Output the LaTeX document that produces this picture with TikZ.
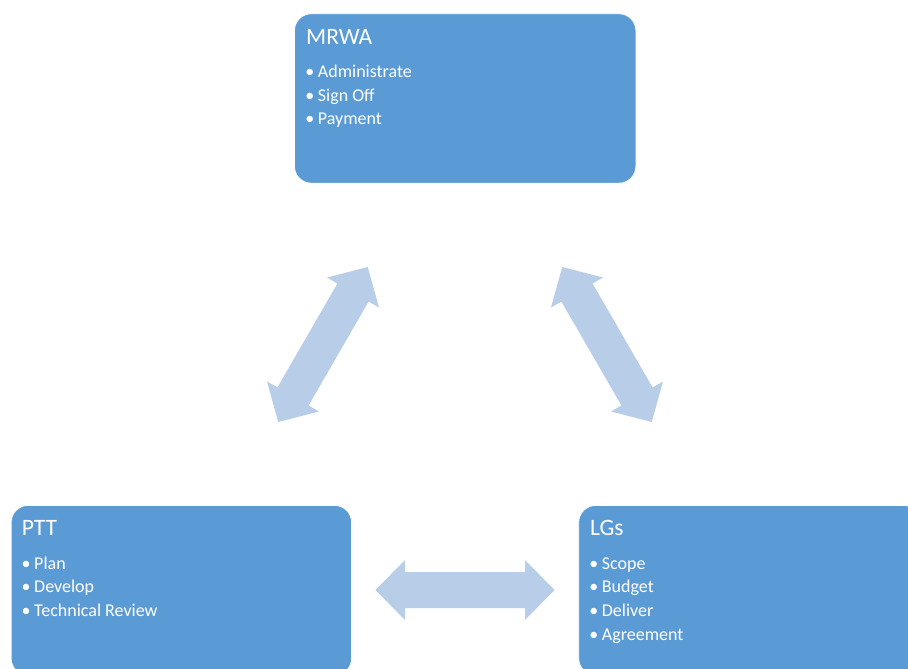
\documentclass[tikz,border=0pt]{standalone}
\usepackage{fontspec}
\setmainfont{Carlito}
\definecolor{boxblue}{HTML}{5B9BD5}
\definecolor{arrowblue}{HTML}{B7CDE8}
\tikzset{
  box/.style={fill=boxblue, draw=white, line width=0.8pt, rounded corners=17pt, anchor=north west},
  ttl/.style={anchor=base west, inner sep=0pt, text=white, font=\fontsize{23.5}{28}\selectfont},
  itm/.style={anchor=base west, inner sep=0pt, text=white, font=\fontsize{18}{22}\selectfont},
  blockarrow/.pic={\fill[arrowblue] (-89.5,0) -- (-60,-30) -- (-60,-18) -- (60,-18) -- (60,-30)
     -- (89.5,0) -- (60,30) -- (60,18) -- (-60,18) -- (-60,30) -- cycle;}
}
\begin{document}
\begin{tikzpicture}[x=1pt,y=-1pt]
\useasboundingbox (0,0) rectangle (908,669);
\clip (0,0) rectangle (908,669);
\fill[white] (0,0) rectangle (908,669);
% boxes
\node[box, minimum width=341.5pt, minimum height=169.5pt] (mrwa) at (294,13.3) {};
\node[box, minimum width=340.5pt, minimum height=170pt] (ptt) at (10.7,505) {};
\node[box, minimum width=342pt, minimum height=170pt] (lgs) at (578.3,505) {};
% titles
\node[ttl] (mrwaT) at (306,45) {MRWA};
\node[ttl] (pttT) at (21.7,535.7) {PTT};
\node[ttl] (lgsT) at (590,535.7) {LGs};
% items
\foreach \t [count=\i] in {Administrate, Sign Off, Payment} {
  \node[itm] (mb\i) at (305.2,{77.3+23.8*(\i-1)}) {•};
  \node[itm] (m\i) at (317.7,{77.3+23.8*(\i-1)}) {\t};
}
\foreach \t [count=\i] in {Plan, Develop, Technical Review} {
  \node[itm] (pb\i) at (21.5,{569+23.6*(\i-1)}) {•};
  \node[itm] (p\i) at (34,{569+23.6*(\i-1)}) {\t};
}
\foreach \t [count=\i] in {Scope, Budget, Deliver, Agreement} {
  \node[itm] (lb\i) at (589.2,{569+23.7*(\i-1)}) {•};
  \node[itm] (l\i) at (601.7,{569+23.7*(\i-1)}) {\t};
}
% block arrows
\pic[rotate=60] (arrL) at (323,344.5) {blockarrow};
\pic[rotate=-60] (arrR) at (607,344.5) {blockarrow};
\pic (arrB) at (465,590) {blockarrow};
\end{tikzpicture}
\end{document}
